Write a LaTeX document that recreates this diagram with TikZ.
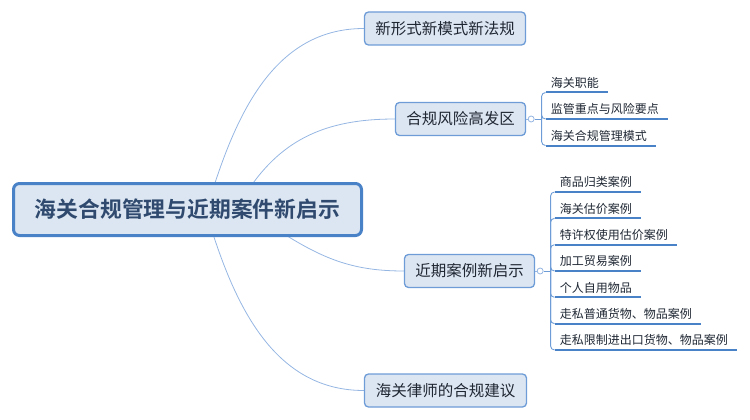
\documentclass[tikz,border=0pt]{standalone}
\usepackage{fontspec}
\setmainfont{Noto Sans CJK SC}[BoldFont={Noto Sans CJK SC Bold}]
\usetikzlibrary{backgrounds}

\definecolor{topicfill}{HTML}{DCE6F2}
\definecolor{topicline}{HTML}{4A82C8}
\definecolor{branchline}{HTML}{6E9CD7}
\definecolor{linkline}{HTML}{95B6E2}
\definecolor{roottext}{HTML}{2F4A6E}
\definecolor{topictext}{HTML}{1F2733}

\begin{document}
\begin{tikzpicture}[x=1pt,y=-1pt,
  root/.style={draw=topicline, fill=topicfill, line width=3pt, rounded corners=6pt,
    minimum width=348pt, minimum height=52pt, inner sep=0pt, text=roottext,
    font=\fontsize{21.8}{25}\selectfont\bfseries},
  branch/.style={draw=branchline, fill=topicfill, line width=1.3pt, rounded corners=4pt,
    minimum height=33pt, inner sep=0pt, text=topictext, font=\fontsize{15.5}{18}\selectfont},
  leaf/.style={anchor=south west, inner xsep=5pt, inner ysep=4pt, text=topictext,
    font=\fontsize{12}{14}\selectfont},
  link/.style={draw=linkline, line width=0.8pt},
  bracket/.style={draw=branchline, line width=0.9pt, rounded corners=4pt},
  uline/.style={draw=topicline, line width=2pt},
  fold/.style={circle, draw=linkline, fill=white, line width=0.8pt, minimum size=6pt, inner sep=0pt}]
  \useasboundingbox (0,0) rectangle (750,420);

  \node[root] (root) at (187.5,209.5) {海关合规管理与近期案件新启示};
  \node[branch, minimum width=161pt] (b1) at (445,28.5) {新形式新模式新法规};
  \node[branch, minimum width=130pt] (b2) at (460.5,119) {合规风险高发区};
  \node[branch, minimum width=130pt] (b3) at (469.5,271) {近期案例新启示};
  \node[branch, minimum width=162pt] (b4) at (445.5,390.5) {海关律师的合规建议};

  \coordinate (r1) at (214,186);
  \coordinate (r2) at (251,186);
  \coordinate (r3) at (284,234);
  \coordinate (r4) at (213,234);
  \begin{scope}[on background layer]
    \draw[link] (r1) to[out=72,in=180] (b1.west);
    \draw[link] (r2) to[out=55,in=180] (b2.west);
    \draw[link] (r3) to[out=-32,in=180] (b3.west);
    \draw[link] (r4) to[out=-72,in=180] (b4.west);
  \end{scope}

  \node[fold] (k2) at ([xshift=5pt]b2.east) {};
  \node[fold] (k3) at ([xshift=5pt]b3.east) {};
  \draw[link] (b2.east) -- (k2.west);
  \draw[link] (b3.east) -- (k3.west);
  \coordinate (h2) at ([xshift=7pt]k2.east);
  \coordinate (h3) at ([xshift=7pt]k3.east);
  \draw[bracket] (k2.east) -- (h2);
  \draw[bracket] (k3.east) -- (h3);

  \foreach \t [count=\i] in {海关职能,监管重点与风险要点,海关合规管理模式} {
    \node[leaf] (c2\i) at ([xshift=4pt,yshift={(2-\i)*26.5}]h2) {\t};
    \draw[bracket] (h2) |- (c2\i.south west);
    \draw[uline] (c2\i.south west) -- ([xshift=4pt]c2\i.south east);
  }
  \foreach \t [count=\i] in {商品归类案例,海关估价案例,特许权使用估价案例,加工贸易案例,
      个人自用物品,走私普通货物、物品案例,走私限制进出口货物、物品案例} {
    \node[leaf] (c3\i) at ([xshift=4pt,yshift={(4-\i)*26.33}]h3) {\t};
    \draw[bracket] (h3) |- (c3\i.south west);
    \draw[uline] (c3\i.south west) -- ([xshift=4pt]c3\i.south east);
  }
\end{tikzpicture}
\end{document}
